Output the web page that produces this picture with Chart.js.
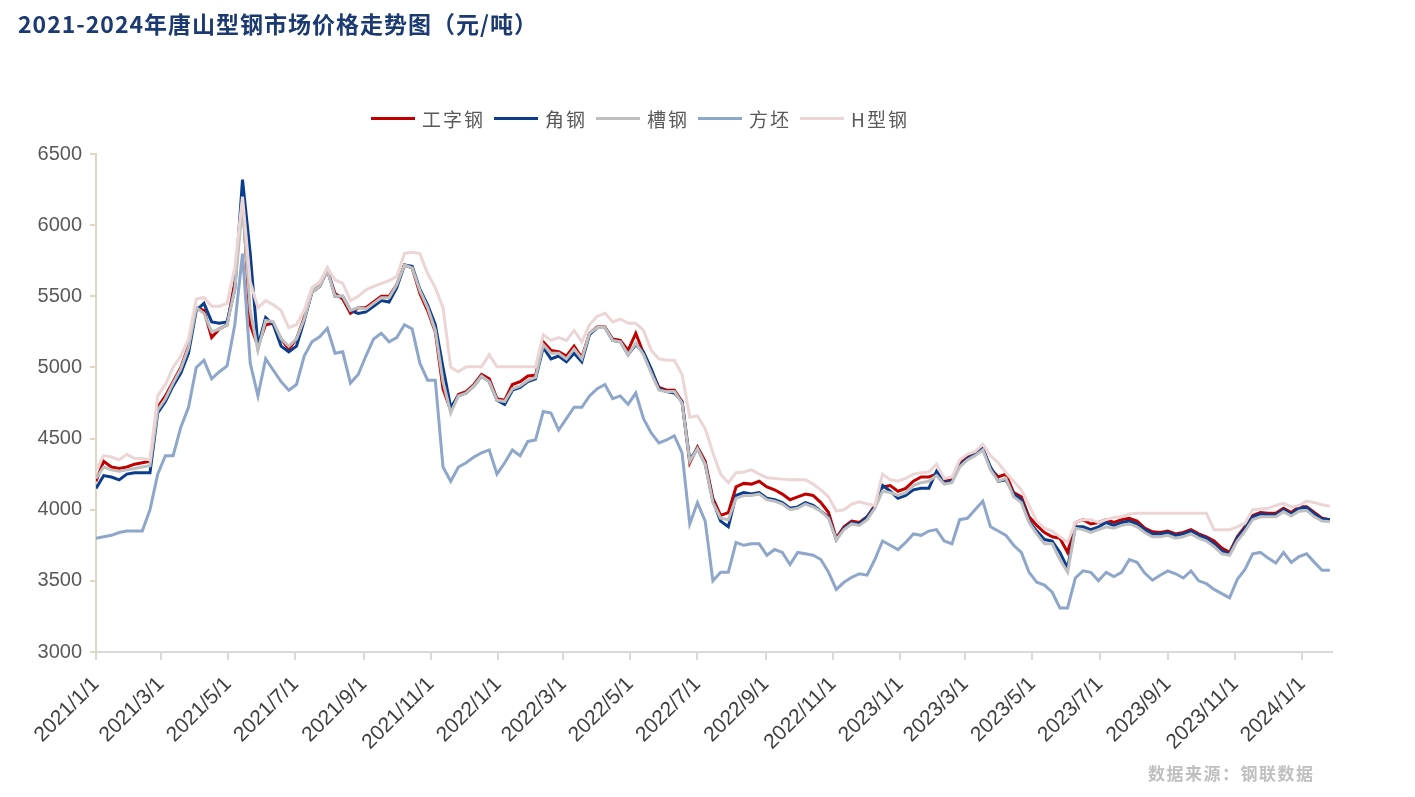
<!DOCTYPE html>
<html>
<head>
<meta charset="utf-8">
<script src="https://cdn.jsdelivr.net/npm/chart.js@4.4.1/dist/chart.umd.min.js"></script>
<style>
  html, body { margin: 0; padding: 0; background: #fff; }
  #wrap { position: relative; width: 1415px; height: 797px; overflow: hidden; }
  #chart { position: absolute; left: 0; top: 0; }
  .title {
    position: absolute; left: 18px; top: 6px;
    font: bold 23px "Noto Sans CJK SC", sans-serif; color: #1c3a72; letter-spacing: 1px;
  }
  .legend {
    position: absolute; left: 371px; top: 104px; height: 28px;
    display: flex; align-items: center;
    font: 19px "Noto Sans CJK SC", sans-serif; color: #595959; letter-spacing: 2px;
  }
  .legend .sw { width: 44px; height: 3px; margin-right: 7px; }
  .legend .lb { margin-right: 9px; }
  .source {
    position: absolute; left: 1148px; top: 760px;
    font: bold 17px "Noto Sans CJK SC", sans-serif; color: #bfbfbf; letter-spacing: 1.5px;
  }
</style>
</head>
<body>
<div id="wrap">
  <canvas id="chart" width="1415" height="797"></canvas>
  <div class="title">2021-2024年唐山型钢市场价格走势图（元/吨）</div>
  <div class="legend" id="legend"></div>
  <div class="source">数据来源：钢联数据</div>
</div>
<script>
// weekly sampling dates
const dates = [
  '2021-01-01','2021-01-08','2021-01-15','2021-01-22','2021-01-29','2021-02-05','2021-02-12','2021-02-19','2021-02-26','2021-03-05',
  '2021-03-12','2021-03-19','2021-03-26','2021-04-02','2021-04-09','2021-04-16','2021-04-23','2021-04-30','2021-05-07','2021-05-14',
  '2021-05-21','2021-05-28','2021-06-04','2021-06-11','2021-06-18','2021-06-25','2021-07-02','2021-07-09','2021-07-16','2021-07-23',
  '2021-07-30','2021-08-06','2021-08-13','2021-08-20','2021-08-27','2021-09-03','2021-09-10','2021-09-17','2021-09-24','2021-10-01',
  '2021-10-08','2021-10-15','2021-10-22','2021-10-29','2021-11-05','2021-11-12','2021-11-19','2021-11-26','2021-12-03','2021-12-10',
  '2021-12-17','2021-12-24','2021-12-31','2022-01-07','2022-01-14','2022-01-21','2022-01-28','2022-02-04','2022-02-11','2022-02-18',
  '2022-02-25','2022-03-04','2022-03-11','2022-03-18','2022-03-25','2022-04-01','2022-04-08','2022-04-15','2022-04-22','2022-04-29',
  '2022-05-06','2022-05-13','2022-05-20','2022-05-27','2022-06-03','2022-06-10','2022-06-17','2022-06-24','2022-07-01','2022-07-08',
  '2022-07-15','2022-07-22','2022-07-29','2022-08-05','2022-08-12','2022-08-19','2022-08-26','2022-09-02','2022-09-09','2022-09-16',
  '2022-09-23','2022-09-30','2022-10-07','2022-10-14','2022-10-21','2022-10-28','2022-11-04','2022-11-11','2022-11-18','2022-11-25',
  '2022-12-02','2022-12-09','2022-12-16','2022-12-23','2022-12-30','2023-01-06','2023-01-13','2023-01-20','2023-01-27','2023-02-03',
  '2023-02-10','2023-02-17','2023-02-24','2023-03-03','2023-03-10','2023-03-17','2023-03-24','2023-03-31','2023-04-07','2023-04-14',
  '2023-04-21','2023-04-28','2023-05-05','2023-05-12','2023-05-19','2023-05-26','2023-06-02','2023-06-09','2023-06-16','2023-06-23',
  '2023-06-30','2023-07-07','2023-07-14','2023-07-21','2023-07-28','2023-08-04','2023-08-11','2023-08-18','2023-08-25','2023-09-01',
  '2023-09-08','2023-09-15','2023-09-22','2023-09-29','2023-10-06','2023-10-13','2023-10-20','2023-10-27','2023-11-03','2023-11-10',
  '2023-11-17','2023-11-24','2023-12-01','2023-12-08','2023-12-15','2023-12-22','2023-12-29','2024-01-05','2024-01-12','2024-01-19',
  '2024-01-26'
];

// 工字钢
const iBeam = [
  4200,4340,4300,4290,4300,4320,4330,4340,4720,4800,
  4900,5000,5150,5420,5400,5210,5270,5300,5600,6200,
  5300,5150,5300,5310,5200,5130,5200,5350,5530,5570,
  5680,5520,5480,5380,5420,5420,5460,5500,5500,5580,
  5720,5700,5520,5400,5250,4850,4700,4810,4830,4880,
  4950,4920,4780,4770,4880,4900,4940,4945,5180,5120,
  5110,5080,5150,5070,5240,5285,5285,5200,5190,5120,
  5240,5100,4980,4860,4840,4840,4760,4330,4440,4340,
  4080,3960,3980,4160,4185,4180,4200,4160,4140,4110,
  4070,4090,4110,4100,4050,3980,3800,3880,3920,3910,
  3950,4030,4160,4170,4130,4150,4200,4230,4230,4250,
  4200,4210,4320,4370,4400,4430,4290,4230,4250,4120,
  4090,3950,3890,3840,3810,3800,3700,3910,3930,3900,
  3910,3930,3910,3930,3940,3920,3870,3845,3840,3850,
  3830,3840,3860,3830,3810,3780,3730,3700,3810,3880,
  3960,3980,3975,3975,4010,3980,4020,4020,3980,3940,3930
];

// 角钢
const angle = [
  4150,4240,4230,4210,4250,4260,4260,4260,4680,4760,
  4870,4960,5100,5400,5450,5320,5310,5320,5550,6320,
  5800,5150,5350,5300,5150,5110,5150,5330,5530,5570,
  5690,5500,5500,5400,5380,5390,5430,5470,5460,5560,
  5720,5710,5550,5440,5300,5000,4720,4800,4820,4870,
  4940,4900,4770,4740,4840,4860,4900,4920,5140,5060,
  5080,5040,5100,5040,5230,5280,5280,5190,5180,5090,
  5160,5110,4990,4850,4830,4820,4760,4350,4430,4320,
  4060,3920,3880,4100,4120,4110,4120,4080,4070,4050,
  4010,4020,4050,4030,3990,3950,3790,3870,3910,3900,
  3950,4020,4170,4130,4080,4100,4140,4150,4150,4270,
  4190,4200,4310,4360,4390,4430,4300,4200,4210,4110,
  4070,3920,3850,3790,3780,3700,3590,3880,3880,3860,
  3880,3910,3890,3910,3920,3900,3860,3830,3830,3840,
  3820,3830,3850,3820,3800,3760,3710,3690,3800,3870,
  3950,3970,3965,3965,4000,3970,4010,4015,3970,3935,3930
];

// 槽钢
const channel = [
  4220,4300,4280,4270,4280,4290,4300,4310,4700,4780,
  4890,4990,5140,5420,5380,5250,5270,5300,5550,6150,
  5400,5120,5330,5320,5200,5150,5200,5340,5530,5570,
  5680,5500,5500,5400,5420,5410,5450,5490,5490,5580,
  5720,5700,5540,5420,5260,4900,4680,4800,4820,4870,
  4940,4900,4770,4760,4850,4870,4910,4930,5160,5100,
  5100,5060,5130,5060,5240,5280,5280,5190,5180,5090,
  5170,5090,4960,4840,4830,4830,4750,4340,4430,4320,
  4050,3940,3930,4080,4100,4100,4110,4070,4060,4040,
  4000,4010,4040,4020,3990,3940,3790,3860,3900,3890,
  3930,4010,4130,4120,4100,4120,4170,4190,4200,4240,
  4180,4190,4300,4350,4380,4420,4280,4200,4220,4090,
  4050,3910,3830,3760,3760,3650,3560,3870,3860,3840,
  3860,3880,3870,3890,3900,3880,3840,3810,3810,3820,
  3800,3810,3830,3800,3780,3740,3690,3680,3780,3850,
  3930,3950,3950,3950,3985,3955,3990,3995,3950,3920,3915
];

// 方坯
const billet = [
  3800,3810,3820,3840,3850,3850,3850,4000,4250,4380,
  4380,4580,4720,5000,5050,4920,4970,5010,5300,5800,
  5030,4800,5060,4980,4900,4840,4880,5080,5180,5215,
  5275,5100,5110,4890,4950,5080,5200,5240,5180,5210,
  5300,5270,5030,4910,4910,4300,4200,4300,4330,4370,
  4400,4420,4250,4330,4420,4380,4480,4490,4690,4680,
  4560,4640,4720,4720,4800,4850,4880,4780,4800,4740,
  4820,4640,4540,4470,4490,4520,4400,3900,4050,3920,
  3500,3560,3560,3770,3750,3760,3760,3680,3720,3700,
  3615,3700,3690,3680,3650,3560,3440,3490,3525,3550,
  3540,3650,3780,3750,3720,3770,3830,3820,3850,3860,
  3780,3760,3930,3940,4000,4060,3880,3850,3820,3750,
  3700,3560,3490,3470,3420,3310,3310,3520,3570,3560,
  3500,3560,3530,3560,3650,3630,3555,3505,3540,3570,
  3550,3520,3570,3500,3480,3440,3410,3380,3510,3580,
  3690,3700,3660,3625,3700,3630,3670,3690,3630,3575,3575
];

// H型钢
const hBeam = [
  4280,4380,4370,4350,4390,4360,4360,4350,4800,4880,
  5000,5080,5200,5480,5490,5430,5430,5450,5700,6200,
  5600,5420,5470,5440,5400,5280,5300,5400,5560,5600,
  5700,5615,5590,5470,5500,5545,5570,5590,5610,5640,
  5800,5810,5800,5660,5560,5420,5000,4970,5005,5005,
  5005,5090,5005,5005,5005,5005,5005,5005,5230,5190,
  5210,5190,5260,5180,5300,5360,5380,5320,5340,5310,
  5310,5260,5120,5060,5050,5050,4950,4650,4660,4570,
  4400,4250,4190,4260,4265,4280,4250,4225,4220,4215,
  4210,4210,4210,4180,4140,4090,3990,4000,4040,4055,
  4040,4030,4250,4210,4200,4220,4250,4260,4265,4320,
  4220,4230,4350,4390,4410,4460,4380,4330,4260,4200,
  4140,4030,3920,3870,3850,3810,3770,3910,3930,3930,
  3910,3930,3945,3950,3970,3975,3975,3975,3975,3975,
  3975,3975,3975,3975,3975,3860,3860,3860,3880,3905,
  4000,4005,4010,4030,4045,4020,4030,4060,4050,4035,4025
];

const seriesNames = ['工字钢', '角钢', '槽钢', '方坯', 'H型钢'];
const seriesColors = ['#c00000', '#0b3d8c', '#bfbfbf', '#8ea6c9', '#ecd5d5'];
const seriesData = [iBeam, angle, channel, billet, hBeam];
const xTickMonths = ['2021-01-01','2021-03-01','2021-05-01','2021-07-01','2021-09-01','2021-11-01',
  '2022-01-01','2022-03-01','2022-05-01','2022-07-01','2022-09-01','2022-11-01',
  '2023-01-01','2023-03-01','2023-05-01','2023-07-01','2023-09-01','2023-11-01','2024-01-01'];
const xEnd = '2024-01-28';

function dayOf(s) {
  const p = s.split('-').map(Number);
  return (Date.UTC(p[0], p[1] - 1, p[2]) - Date.UTC(2021, 0, 1)) / 864e5;
}
function fmtDay(d) {
  const t = new Date(Date.UTC(2021, 0, 1) + d * 864e5);
  return t.getUTCFullYear() + '/' + (t.getUTCMonth() + 1) + '/' + t.getUTCDate();
}

const xs = dates.map(dayOf);
const datasets = seriesNames.map((name, i) => ({
  label: name,
  data: seriesData[i].map((v, j) => ({ x: xs[j], y: v })),
  borderColor: seriesColors[i],
  backgroundColor: seriesColors[i],
  borderWidth: 3,
  pointRadius: 0,
  tension: 0,
  fill: false,
  order: 5 - i
}));

// legend
const legendEl = document.getElementById('legend');
seriesNames.forEach((n, i) => {
  legendEl.insertAdjacentHTML('beforeend',
    `<span class="sw" style="background:${seriesColors[i]}"></span><span class="lb">${n}</span>`);
});

new Chart(document.getElementById('chart'), {
  type: 'line',
  data: { datasets },
  options: {
    responsive: false,
    animation: false,
    layout: { padding: { top: 154, right: 83, left: 0, bottom: 0 } },
    plugins: { legend: { display: false }, tooltip: { enabled: false } },
    scales: {
      x: {
        type: 'linear',
        min: 0,
        max: dayOf(xEnd),
        afterBuildTicks: (scale) => { scale.ticks = xTickMonths.map(s => ({ value: dayOf(s) })); },
        afterFit: (scale) => { scale.height = 145; },
        ticks: {
          autoSkip: false, maxRotation: 45, minRotation: 45, padding: 12,
          color: '#404040', font: { family: 'Liberation Sans, Arial, sans-serif', size: 21 },
          callback: (v) => fmtDay(v)
        },
        grid: { drawOnChartArea: false, drawTicks: true, tickLength: 8, color: '#d9d9d9', lineWidth: 2 },
        border: { color: '#d9d9d9', width: 2 }
      },
      y: {
        min: 3000, max: 6500,
        afterFit: (scale) => { scale.width = 96; },
        ticks: {
          stepSize: 500, padding: 8, color: '#595959',
          font: { family: 'Liberation Sans, Arial, sans-serif', size: 20 },
          callback: (v) => String(v)
        },
        grid: { drawOnChartArea: false, drawTicks: true, tickLength: 6, color: '#ddd8c3', lineWidth: 2 },
        border: { color: '#ddd8c3', width: 2 }
      }
    }
  }
});
</script>
</body>
</html>
